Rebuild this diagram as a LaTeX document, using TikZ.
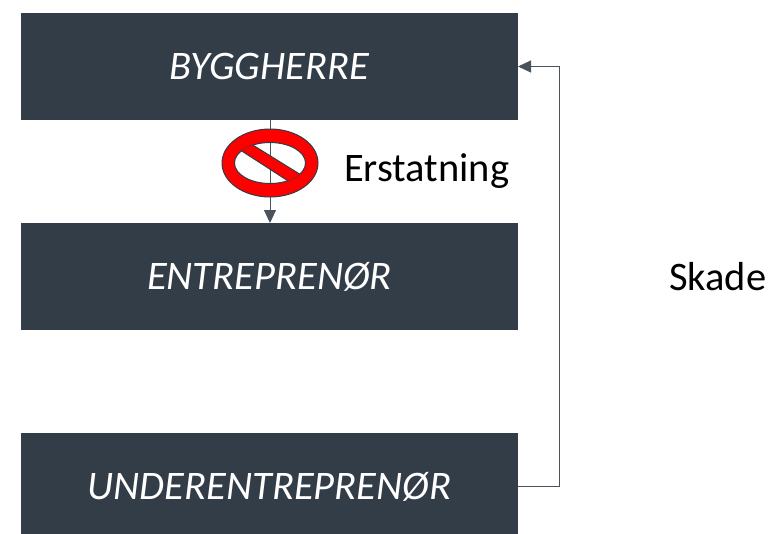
\documentclass[tikz,border=0pt]{standalone}
\usepackage{fontspec}
\setmainfont{Carlito}
\usetikzlibrary{arrows.meta}
\definecolor{boxc}{HTML}{333D48}
\definecolor{linec}{HTML}{4A535C}
\definecolor{signred}{HTML}{FF0000}
\begin{document}
\begin{tikzpicture}[x=1pt,y=-1pt,
  every node/.style={inner sep=0pt, outer sep=0pt},
  party/.style={fill=boxc, text=white, minimum width=497pt, minimum height=107pt,
    text height=26pt, text depth=0pt, font=\fontsize{40.5}{48}\selectfont\itshape},
  lbl/.style={text=black, font=\fontsize{40.5}{48}\selectfont, anchor=base west},
  conn/.style={draw=linec, line width=1pt, -{Triangle[length=13pt,width=12pt]}},
  signpart/.style={fill=signred, draw=boxc, line width=1pt}]
\useasboundingbox (0,0) rectangle (770,533);
\node[party] (bh) at (269.5,66.5) {BYGGHERRE};
\node[party] (en) at (269.5,276.5) {ENTREPRENØR};
\node[party] (ue) at (269.5,486.5) {UNDERENTREPRENØR};
\coordinate (c) at (270,163);
\coordinate (rx) at (559,0);
\draw[conn] (bh.south -| c) -- (en.north -| c);
\draw[conn] (ue.east) -- (ue.east -| rx) |- (bh.east);
% forbidden sign
\path[signpart, even odd rule] (c) ellipse [x radius=48, y radius=34]
  (c) ellipse [x radius=35.5, y radius=20.5];
\begin{scope}
  \clip (c) ellipse [x radius=35.5, y radius=20.5];
  \path[signpart] ([shift={(-39.23,-31.62)}]c) -- ([shift={(45.77,21.08)}]c)
    -- ([shift={(39.23,31.62)}]c) -- ([shift={(-42.27,-21.08)}]c) -- cycle;
\end{scope}
\node[lbl] (er) at (344,181) {Erstatning};
\node[lbl] (sk) at (669,290) {Skade};
\end{tikzpicture}
\end{document}
